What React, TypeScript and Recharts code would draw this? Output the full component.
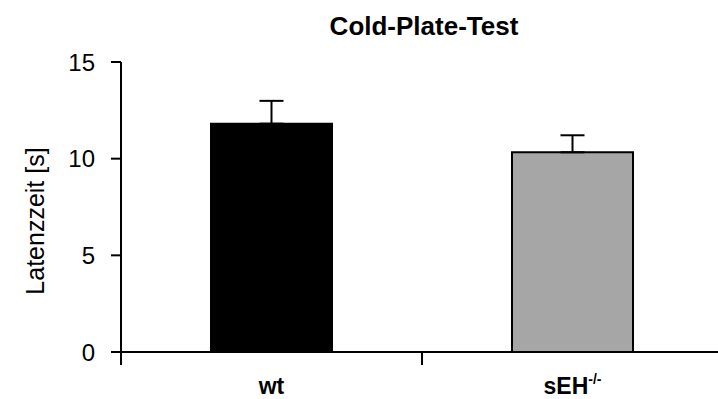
import React from 'react';
import { BarChart, Bar, Cell, XAxis, YAxis, ErrorBar } from 'recharts';

const groups = ['wt', 'sEH'];
const positions = [0.5, 1.5];
const means = [11.81, 10.33];
const errUp = [1.18, 0.88];
const fills = ['#000000', '#a6a6a6'];
const yTicks = [0, 5, 10, 15];
const xTicks = [0, 0.5, 1, 1.5, 2];

const data = groups.map((g, i) => ({
  name: g,
  pos: positions[i],
  value: means[i],
  err: [0, errUp[i]],
}));

const FONT = '"Liberation Sans", Arial, sans-serif';

// integer ticks = group boundaries (tick mark), half ticks = group labels
const XTick = ({ x, y, payload }: any) => {
  const idx = positions.indexOf(payload.value);
  if (idx < 0) {
    return <line x1={x} x2={x} y1={y - 2} y2={y + 11} stroke="#000" strokeWidth={2} />;
  }
  const name = groups[idx];
  return (
    <text x={x} y={y + 40} textAnchor="middle" fontFamily={FONT} fontWeight="bold" fontSize={23} fill="#000">
      {name === 'sEH' ? (
        <>
          sEH<tspan dy={-10} fontSize={14}>-/-</tspan>
        </>
      ) : (
        name
      )}
    </text>
  );
};

export default function App() {
  return (
    <div style={{ position: 'absolute', left: 0, top: 0, width: 718, height: 399, overflow: 'hidden', background: '#fff' }}>
      <div
        style={{
          position: 'absolute', left: 0, width: 848, top: 11, textAlign: 'center',
          fontFamily: FONT, fontWeight: 'bold', fontSize: 26, color: '#000',
        }}
      >
        Cold-Plate-Test
      </div>
      <div
        style={{
          position: 'absolute', left: 35, top: 221, transform: 'translate(-50%, -50%) rotate(-90deg)',
          whiteSpace: 'nowrap', fontFamily: FONT, fontSize: 25, color: '#000',
        }}
      >
        Latenzzeit [s]
      </div>
      <BarChart
        width={740}
        height={399}
        data={data}
        margin={{ top: 62, right: 17, left: 0, bottom: 0 }}
      >
        <XAxis
          dataKey="pos"
          type="number"
          domain={[0, 2]}
          ticks={xTicks}
          interval={0}
          tickLine={false}
          tickSize={2}
          tickMargin={0}
          axisLine={{ stroke: '#000', strokeWidth: 2 }}
          tick={<XTick />}
          height={47}
        />
        <YAxis
          domain={[0, 15]}
          ticks={yTicks}
          width={121}
          tickSize={10}
          tickMargin={16}
          axisLine={{ stroke: '#000', strokeWidth: 2 }}
          tickLine={{ stroke: '#000', strokeWidth: 2 }}
          tick={{ fill: '#000', fontSize: 24, fontFamily: FONT }}
        />
        <Bar dataKey="value" barSize={121} stroke="#000" strokeWidth={2} isAnimationActive={false}>
          {data.map((d, i) => (
            <Cell key={d.name} fill={fills[i]} />
          ))}
          <ErrorBar dataKey="err" direction="y" width={12} stroke="#000" strokeWidth={2} isAnimationActive={false} />
        </Bar>
      </BarChart>
    </div>
  );
}
